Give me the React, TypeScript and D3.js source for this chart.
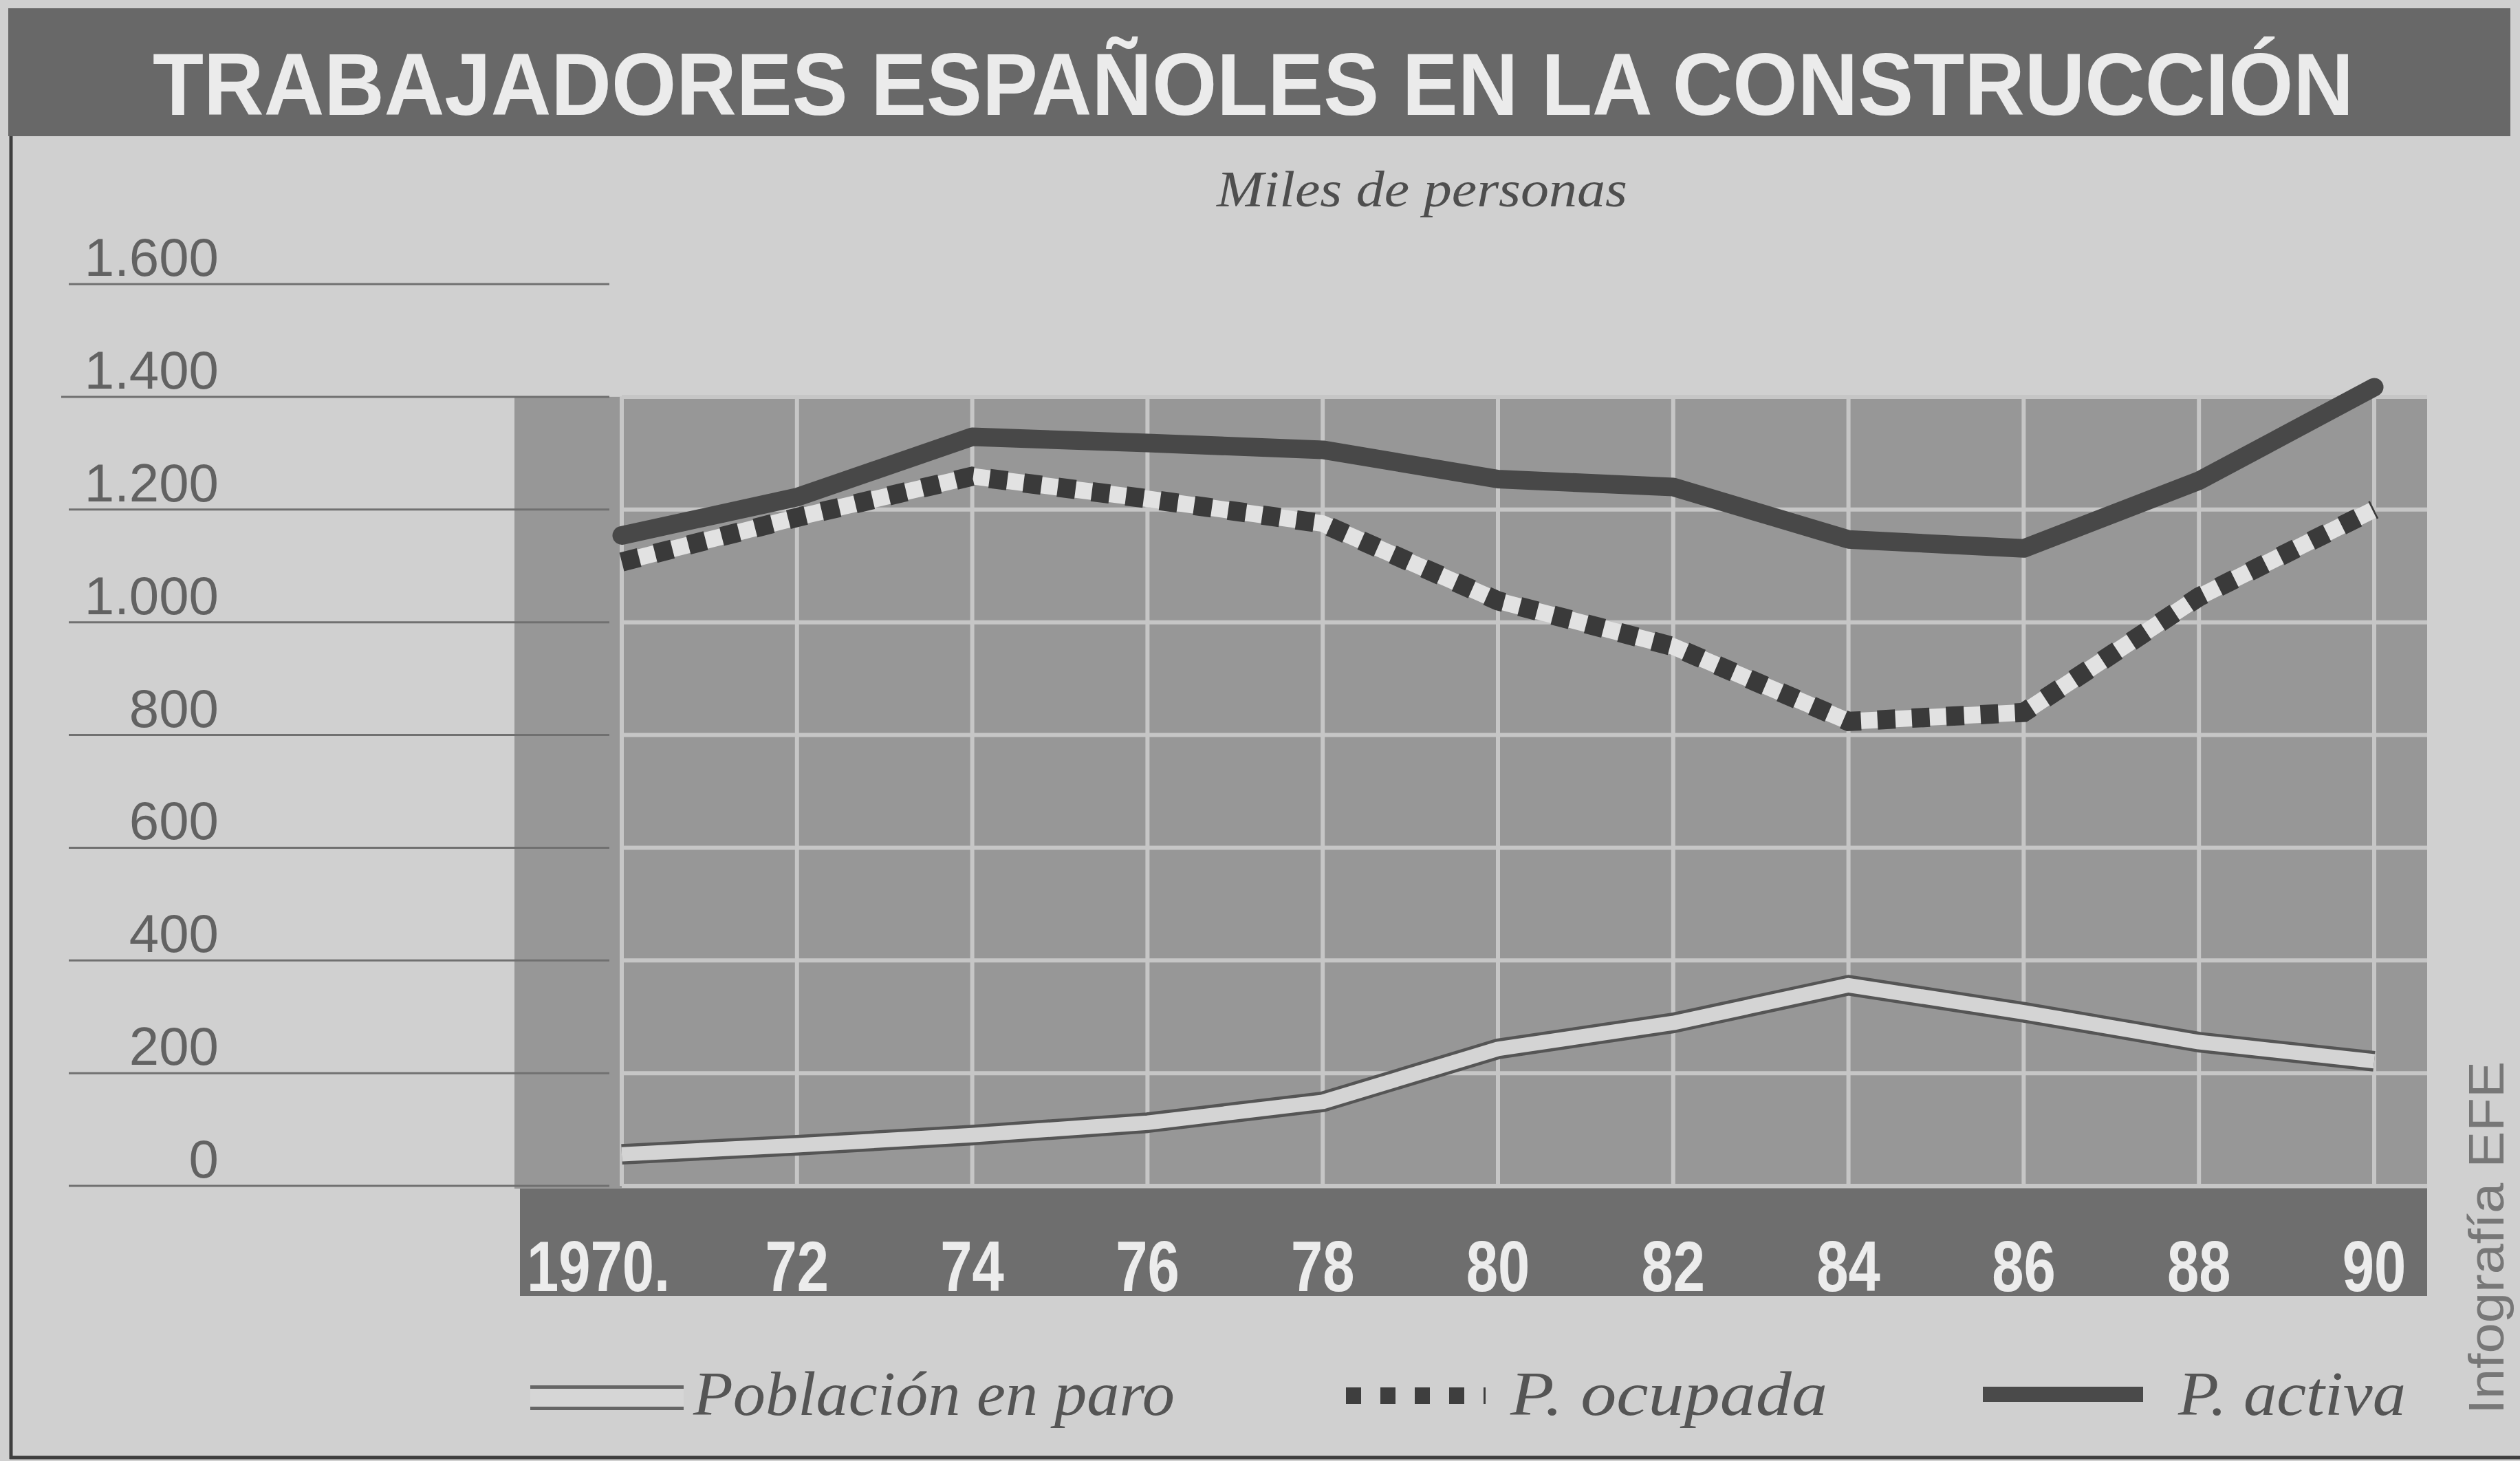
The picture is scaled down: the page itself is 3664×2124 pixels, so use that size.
import React from 'react';
import * as d3 from 'd3';

// Data (miles de personas)
const years = [1970, 1972, 1974, 1976, 1978, 1980, 1982, 1984, 1986, 1988, 1990];
const yearLabels = ['1970.', '72', '74', '76', '78', '80', '82', '84', '86', '88', '90'];
const activa = [1154, 1222, 1329, 1318, 1306, 1254, 1240, 1147, 1131, 1251, 1417];
const ocupada = [1107, 1186, 1259, 1219, 1175, 1038, 957, 824, 840, 1045, 1200];
const paro = [56, 72, 90, 112, 149, 243, 289, 356, 308, 255, 221];
const yTicks = [0, 200, 400, 600, 800, 1000, 1200, 1400, 1600];
const yTickLabels = ['0', '200', '400', '600', '800', '1.000', '1.200', '1.400', '1.600'];

const W = 3664;
const H = 2124;

const PAPER = '#d0d0d0';
const PLOT = '#979797';
const BAND = '#6e6e6e';
const GRID = '#c6c6c6';

const App = () => {
  const x = d3.scaleLinear().domain([1970, 1990]).range([904, 3452]);
  const y = d3.scaleLinear().domain([0, 1600]).range([1724, 413]);

  const plotLeft = 748;
  const plotRight = 3529;
  const plotTop = y(1400);
  const bandTop = y(0) + 4;
  const bandBottom = 1884;

  const line = d3.line<number>()
    .x((d, i) => x(years[i]))
    .y(d => y(d))
    .curve(d3.curveLinear);

  const font = '"Liberation Sans", Arial, sans-serif';
  const serif = '"Liberation Serif", "Times New Roman", serif';

  return (
    <svg width={W} height={H} style={{ position: 'absolute', left: 0, top: 0, display: 'block' }}>
      <rect x={0} y={0} width={W} height={H} fill={PAPER} />

      {/* Title band */}
      <rect x={12} y={12} width={3638} height={186} fill="#686868" />
      <text x={222} y={167} fontFamily={font} fontWeight="bold" fontSize={128}
        fill="#ebebeb" textLength={3200} lengthAdjust="spacingAndGlyphs">
        TRABAJADORES ESPAÑOLES EN LA CONSTRUCCIÓN
      </text>

      {/* Frame */}
      <line x1={16} x2={16} y1={198} y2={2121} stroke="#3e3e3e" strokeWidth={5} />
      <line x1={14} x2={W} y1={2119} y2={2119} stroke="#3e3e3e" strokeWidth={5} />

      <text x={1769} y={300} fontFamily={serif} fontStyle="italic" fontSize={74}
        fill="#4e4e4e" textLength={597} lengthAdjust="spacingAndGlyphs">
        Miles de personas
      </text>

      {/* Plot background */}
      <rect x={plotLeft} y={plotTop} width={plotRight - plotLeft} height={bandTop - plotTop} fill={PLOT} />
      <rect x={plotLeft + 8} y={bandTop} width={plotRight - plotLeft - 8} height={bandBottom - bandTop} fill={BAND} />

      {/* Left tick lines and labels */}
      {yTicks.map((t, i) => (
        <g key={'yt' + t}>
          <line x1={t === 1400 ? 89 : 100} x2={886} y1={y(t)} y2={y(t)}
            stroke="#707070" strokeWidth={3} />
          <text x={318} y={y(t) - 12} textAnchor="end" fontFamily={font} fontSize={78}
            fill="#626262">
            {yTickLabels[i]}
          </text>
        </g>
      ))}

      {/* White grid */}
      {yTicks.filter(t => t <= 1400).map(t => (
        <line key={'hg' + t} x1={x(1970)} x2={plotRight} y1={y(t)} y2={y(t)}
          stroke={GRID} strokeWidth={6} />
      ))}
      {years.map(yr => (
        <line key={'vg' + yr} x1={x(yr)} x2={x(yr)} y1={plotTop} y2={y(0)}
          stroke={GRID} strokeWidth={6} />
      ))}

      {/* Year labels (condensed) */}
      {years.map((yr, i) => (
        <text key={'yl' + yr} transform={`translate(${x(yr) + (i === 0 ? -34 : 0)},1877) scale(0.8,1)`}
          textAnchor="middle" fontFamily={font} fontWeight="bold" fontSize={104} fill="#ececec">
          {yearLabels[i]}
        </text>
      ))}

      {/* Población en paro: light line with dark edges */}
      <path d={line(paro) || ''} fill="none" stroke="#555" strokeWidth={30}
        strokeLinejoin="round" />
      <path d={line(paro) || ''} fill="none" stroke="#d4d4d4" strokeWidth={21}
        strokeLinejoin="round" />

      {/* P. ocupada: dark dashes on white */}
      <path d={line(ocupada) || ''} fill="none" stroke="#e2e2e2" strokeWidth={24}
        strokeLinejoin="round" />
      <path d={line(ocupada) || ''} fill="none" stroke="#3a3a3a" strokeWidth={28}
        strokeDasharray="26 24" />

      {/* P. activa */}
      <path d={line(activa) || ''} fill="none" stroke="#484848" strokeWidth={27}
        strokeLinejoin="round" strokeLinecap="round" />

      {/* Legend */}
      <line x1={771} x2={994} y1={2032} y2={2032} stroke="#666" strokeWidth={36} />
      <line x1={771} x2={994} y1={2032} y2={2032} stroke="#d6d6d6" strokeWidth={26} />
      <text x={1008} y={2057} fontFamily={serif} fontStyle="italic" fontSize={90}
        fill="#555" textLength={700} lengthAdjust="spacingAndGlyphs">
        Población en paro
      </text>

      <line x1={1957} x2={2160} y1={2029} y2={2029} stroke="#3e3e3e" strokeWidth={24}
        strokeDasharray="22 28" />
      <text x={2196} y={2057} fontFamily={serif} fontStyle="italic" fontSize={90}
        fill="#555" textLength={461} lengthAdjust="spacingAndGlyphs">
        P. ocupada
      </text>

      <line x1={2883} x2={3116} y1={2027} y2={2027} stroke="#4a4a4a" strokeWidth={22} />
      <text x={3167} y={2057} fontFamily={serif} fontStyle="italic" fontSize={90}
        fill="#555" textLength={331} lengthAdjust="spacingAndGlyphs">
        P. activa
      </text>

      {/* Credit */}
      <text transform="translate(3640,2056) rotate(-90)" fontFamily={font} fontSize={72}
        fill="#777" textLength={513} lengthAdjust="spacingAndGlyphs">
        Infografía EFE
      </text>
    </svg>
  );
};

export default App;
